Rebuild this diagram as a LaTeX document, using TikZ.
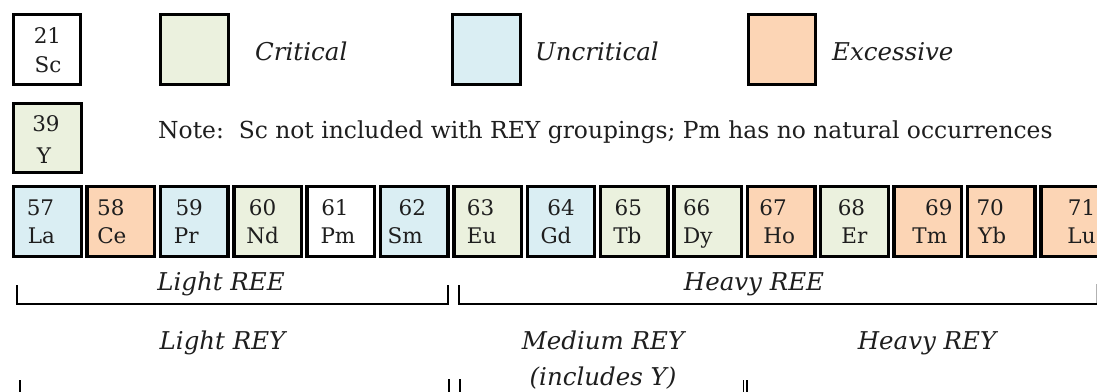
\documentclass[tikz,border=0pt]{standalone}
\usepackage{fontspec}
\setmainfont{DejaVu Serif}
\definecolor{crit}{HTML}{EBF1DE}
\definecolor{unc}{HTML}{DAEEF3}
\definecolor{exc}{HTML}{FCD5B5}
\definecolor{txt}{HTML}{1E1E1E}
\begin{document}
\begin{tikzpicture}[x=1pt,y=-1pt,
  box/.style={draw=black, line width=3.4pt, inner sep=0pt, minimum width=67.5pt, minimum height=69.5pt},
  num/.style={anchor=base, inner sep=0pt, font=\fontsize{21.5}{26}\selectfont, text=txt},
  legtext/.style={anchor=base west, inner sep=0pt, font=\fontsize{24.5}{29}\selectfont\itshape, text=txt},
  lbl/.style={anchor=base, inner sep=0pt, font=\fontsize{24.5}{29}\selectfont\itshape, text=txt},
  notetext/.style={anchor=base west, inner sep=0pt, font=\fontsize{23.4}{28}\selectfont, text=txt},
  brk/.style={line width=2.2pt, line cap=butt}]
\useasboundingbox[fill=white] (0,0) rectangle (1097,391);

% legend row
\node[box, fill=white] (sc) at (47,49.5) {};
\node[num] (nsc) at (47.5,43) {21};
\node[num] (ssc) at (48,72) {Sc};
\node[box, fill=crit] (legcrit) at (194.5,49.5) {};
\node[legtext] (tcrit) at (255,60) {Critical};
\node[box, fill=unc] (legunc) at (486.5,49.5) {};
\node[legtext] (tunc) at (535,60) {Uncritical};
\node[box, fill=exc] (legexc) at (782,49.5) {};
\node[legtext] (texc) at (832,60) {Excessive};

% Y row
\node[box, fill=crit] (y) at (47.5,138) {};
\node[num] (ny) at (46,131) {39};
\node[num] (sy) at (44,163) {Y};
\node[notetext] (note) at (158,138) {Note:\ \ Sc not included with REY groupings; Pm has no natural occurrences};

% lanthanide row
\foreach \i/\n/\s/\c/\dn/\ds in {0/57/La/unc/-7/-6, 1/58/Ce/exc/-10/-9, 2/59/Pr/unc/-5/-8,
  3/60/Nd/crit/-5/-5, 4/61/Pm/white/-6/-3, 5/62/Sm/unc/-2/-9, 6/63/Eu/crit/-7/-6,
  7/64/Gd/unc/0/-5, 8/65/Tb/crit/-6/-7, 9/66/Dy/crit/-11/-10, 10/67/Ho/exc/-8/-2,
  11/68/Er/crit/-3/0, 12/69/Tm/exc/11/2, 13/70/Yb/exc/-11/-9, 14/71/Lu/exc/7/7} {
  \pgfmathsetmacro\cx{47.5+73.36*\i}
  \pgfmathsetmacro\nx{\cx+(\dn)}
  \pgfmathsetmacro\sx{\cx+(\ds)}
  \node[box, fill=\c] (e\n) at (\cx,221.5) {};
  \node[num] (n\n) at (\nx,215) {\n};
  \node[num] (s\n) at (\sx,243) {\s};
}

% REE brackets
\coordinate (lreeA) at (17,285);
\coordinate (lreeB) at (448,285);
\draw[brk] (lreeA) -- (17,304) -- (448,304) -- (lreeB);
\coordinate (hreeA) at (459,285);
\coordinate (hreeB) at (1097,304);
\draw[brk] (hreeA) -- (459,304) -- (hreeB);
\draw[line width=1pt, black!30] (1096,284) -- (1096,303);
\node[lbl] (lree) at (221,290) {Light REE};
\node[lbl] (hree) at (754,290) {Heavy REE};

% REY labels and ticks
\node[lbl] (lrey) at (222.5,349) {Light REY};
\node[lbl] (mrey) at (603,349) {Medium REY};
\node[lbl] (mrey2) at (603,385) {(includes Y)};
\node[lbl] (hrey) at (927,349) {Heavy REY};
\coordinate (t1) at (20,380);
\coordinate (t2) at (449,379);
\coordinate (t3) at (460,379);
\coordinate (t4) at (743.5,380);
\coordinate (t5) at (747,380);
\draw[brk] (t1) -- ++(0,15);
\draw[brk] (t2) -- ++(0,15);
\draw[brk] (t3) -- ++(0,15);
\draw[line width=1.3pt] (t4) -- ++(0,15);
\draw[line width=1.3pt] (t5) -- ++(0,15);
\end{tikzpicture}
\end{document}
